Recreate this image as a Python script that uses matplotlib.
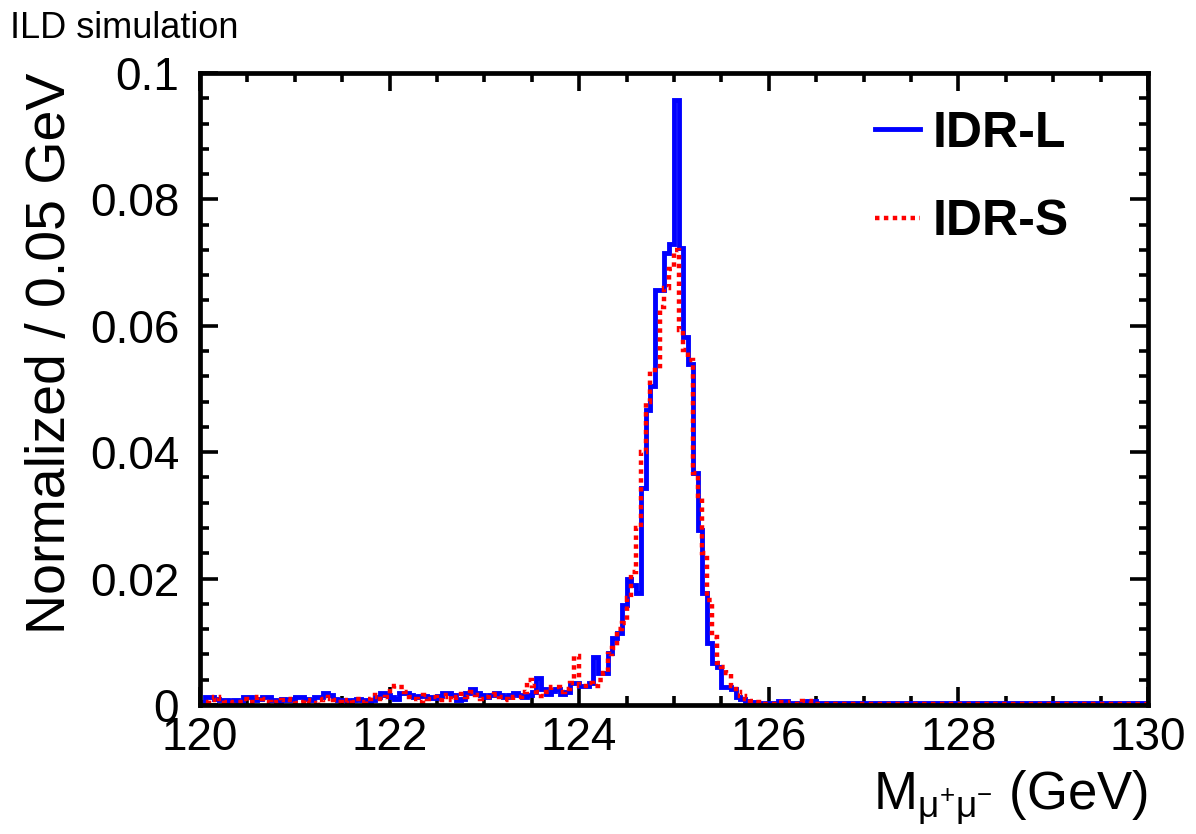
import numpy as np
import matplotlib
matplotlib.use("Agg")
import matplotlib.pyplot as plt
from matplotlib.ticker import MultipleLocator, FuncFormatter
from matplotlib.lines import Line2D

plt.rcParams['font.family'] = ['Liberation Sans', 'DejaVu Sans']
plt.rcParams['mathtext.fontset'] = 'custom'
plt.rcParams['mathtext.rm'] = 'Liberation Sans'
plt.rcParams['mathtext.it'] = 'Liberation Sans:italic'
plt.rcParams['mathtext.bf'] = 'Liberation Sans:bold'

# Histogram range: 120-130 GeV, 0.05 GeV bins (one row = 10 bins = 0.5 GeV)
x_min, x_max = 120.0, 130.0

idr_l = [
    0.0005, 0.0012, 0.0013, 0.0010, 0.0008, 0.0008, 0.0006, 0.0008, 0.0005, 0.0013,  # 120.0
    0.0013, 0.0008, 0.0010, 0.0013, 0.0013, 0.0008, 0.0006, 0.0010, 0.0008, 0.0010,  # 120.5
    0.0012, 0.0012, 0.0010, 0.0008, 0.0013, 0.0013, 0.0019, 0.0016, 0.0010, 0.0008,  # 121.0
    0.0008, 0.0006, 0.0008, 0.0010, 0.0008, 0.0006, 0.0008, 0.0013, 0.0019, 0.0016,  # 121.5
    0.0013, 0.0010, 0.0019, 0.0019, 0.0016, 0.0013, 0.0015, 0.0015, 0.0013, 0.0011,  # 122.0
    0.0015, 0.0019, 0.0019, 0.0016, 0.0008, 0.0010, 0.0019, 0.0025, 0.0019, 0.0016,  # 122.5
    0.0013, 0.0016, 0.0019, 0.0016, 0.0013, 0.0016, 0.0019, 0.0016, 0.0013, 0.0016,  # 123.0
    0.0020, 0.0043, 0.0025, 0.0018, 0.0022, 0.0025, 0.0018, 0.0020, 0.0035, 0.0035,  # 123.5
    0.0030, 0.0030, 0.0035, 0.0076, 0.0050, 0.0050, 0.0082, 0.0106, 0.0114, 0.0158,  # 124.0
    0.0200, 0.0190, 0.0177, 0.0343, 0.0467, 0.0504, 0.0657, 0.0657, 0.0715, 0.0730,  # 124.5
    0.0958, 0.0723, 0.0582, 0.0540, 0.0367, 0.0277, 0.0177, 0.0098, 0.0066, 0.0060,  # 125.0
    0.0028, 0.0028, 0.0025, 0.0013, 0.0010, 0.0006, 0.0004, 0.0003, 0.0003, 0.0003,  # 125.5
    0.0003, 0.0003, 0.0007, 0.0007, 0.0003, 0.0003, 0.0003, 0.0003, 0.0007, 0.0006,  # 126.0
    0.0003, 0.0003, 0.0003, 0.0003, 0.0003, 0.0003, 0.0003, 0.0003, 0.0003, 0.0003,  # 126.5
    0.0003, 0.0003, 0.0003, 0.0003, 0.0003, 0.0003, 0.0003, 0.0003, 0.0003, 0.0003,  # 127.0
    0.0003, 0.0003, 0.0003, 0.0003, 0.0003, 0.0003, 0.0003, 0.0003, 0.0003, 0.0003,  # 127.5
    0.0003, 0.0003, 0.0003, 0.0003, 0.0003, 0.0003, 0.0003, 0.0003, 0.0003, 0.0003,  # 128.0
    0.0003, 0.0003, 0.0003, 0.0003, 0.0003, 0.0003, 0.0003, 0.0003, 0.0003, 0.0003,  # 128.5
    0.0003, 0.0003, 0.0003, 0.0003, 0.0003, 0.0003, 0.0003, 0.0003, 0.0003, 0.0003,  # 129.0
    0.0003, 0.0003, 0.0003, 0.0003, 0.0003, 0.0003, 0.0003, 0.0003, 0.0003, 0.0003,  # 129.5
]

idr_s = [
    0.0003, 0.0005, 0.0008, 0.0013, 0.0010, 0.0005, 0.0003, 0.0005, 0.0005, 0.0010,  # 120.0
    0.0005, 0.0005, 0.0013, 0.0010, 0.0005, 0.0003, 0.0005, 0.0008, 0.0010, 0.0008,  # 120.5
    0.0003, 0.0005, 0.0008, 0.0005, 0.0003, 0.0008, 0.0010, 0.0013, 0.0008, 0.0005,  # 121.0
    0.0003, 0.0008, 0.0005, 0.0010, 0.0005, 0.0010, 0.0013, 0.0016, 0.0010, 0.0013,  # 121.5
    0.0025, 0.0030, 0.0028, 0.0020, 0.0013, 0.0010, 0.0005, 0.0016, 0.0010, 0.0013,  # 122.0
    0.0008, 0.0013, 0.0016, 0.0008, 0.0013, 0.0018, 0.0013, 0.0020, 0.0016, 0.0010,  # 122.5
    0.0013, 0.0016, 0.0018, 0.0013, 0.0010, 0.0008, 0.0013, 0.0013, 0.0020, 0.0040,  # 123.0
    0.0030, 0.0020, 0.0015, 0.0020, 0.0028, 0.0028, 0.0020, 0.0025, 0.0035, 0.0078,  # 123.5
    0.0030, 0.0030, 0.0035, 0.0030, 0.0040, 0.0050, 0.0080, 0.0090, 0.0120, 0.0130,  # 124.0
    0.0170, 0.0210, 0.0280, 0.0400, 0.0480, 0.0530, 0.0530, 0.0630, 0.0660, 0.0690,  # 124.5
    0.0720, 0.0593, 0.0562, 0.0546, 0.0367, 0.0330, 0.0240, 0.0166, 0.0108, 0.0066,  # 125.0
    0.0060, 0.0050, 0.0030, 0.0020, 0.0015, 0.0010, 0.0006, 0.0004, 0.0002, 0.0002,  # 125.5
    0.0002, 0.0002, 0.0004, 0.0004, 0.0002, 0.0002, 0.0002, 0.0006, 0.0006, 0.0002,  # 126.0
    0.0002, 0.0002, 0.0002, 0.0002, 0.0002, 0.0002, 0.0002, 0.0002, 0.0002, 0.0002,  # 126.5
    0.0002, 0.0002, 0.0002, 0.0002, 0.0002, 0.0002, 0.0002, 0.0002, 0.0002, 0.0002,  # 127.0
    0.0002, 0.0002, 0.0002, 0.0002, 0.0002, 0.0002, 0.0002, 0.0002, 0.0002, 0.0002,  # 127.5
    0.0002, 0.0002, 0.0002, 0.0002, 0.0002, 0.0002, 0.0002, 0.0002, 0.0002, 0.0002,  # 128.0
    0.0002, 0.0002, 0.0002, 0.0002, 0.0002, 0.0002, 0.0002, 0.0002, 0.0002, 0.0002,  # 128.5
    0.0002, 0.0002, 0.0002, 0.0002, 0.0002, 0.0002, 0.0002, 0.0002, 0.0002, 0.0002,  # 129.0
    0.0002, 0.0002, 0.0002, 0.0002, 0.0002, 0.0002, 0.0002, 0.0002, 0.0002, 0.0002,  # 129.5
]

labels = ['IDR-L', 'IDR-S']
colors = ['#0000ff', '#ff0000']

edges = np.linspace(x_min, x_max, len(idr_l) + 1)

fig = plt.figure(figsize=(11.96, 8.34), dpi=100)
ax = fig.add_axes([0.1672, 0.1547, 0.7926, 0.7578])

ax.stairs(idr_l, edges, color=colors[0], linewidth=3.5, zorder=2)
ax.stairs(idr_s, edges, color=colors[1], linewidth=3.2,
          linestyle=(0, (1, 1)), zorder=3)

ax.set_xlim(x_min, x_max)
ax.set_ylim(0, 0.1)

# ROOT-like frame and ticks
for sp in ax.spines.values():
    sp.set_linewidth(3.4)
    sp.set_zorder(4)
ax.xaxis.set_major_locator(MultipleLocator(2))
ax.xaxis.set_minor_locator(MultipleLocator(0.5))
ax.yaxis.set_major_locator(MultipleLocator(0.02))
ax.yaxis.set_minor_locator(MultipleLocator(0.004))
ax.yaxis.set_major_formatter(FuncFormatter(lambda v, p: '%g' % v))
ax.tick_params(which='both', direction='in', top=True, right=True, width=2.6)
ax.tick_params(which='major', length=13)
ax.tick_params(which='minor', length=6.5)
ax.tick_params(axis='x', which='major', labelsize=33, pad=8)
ax.tick_params(axis='y', which='major', labelsize=33, pad=15)

ax.set_xlabel(r'M$_{\mathrm{\mu}^{+}\mathrm{\mu}^{-}}$ (GeV)', fontsize=38, loc='right')
ax.set_ylabel('Normalized / 0.05 GeV', fontsize=40, loc='top')
ax.xaxis.set_label_coords(1.0, -0.1)
ax.yaxis.set_label_coords(-0.13, 1.0)

handles = [Line2D([], [], color=colors[0], linewidth=3.5),
           Line2D([], [], color=colors[1], linewidth=3.2, linestyle=(0, (1, 1)))]
leg = ax.legend(handles, labels, loc='upper left', bbox_to_anchor=(0.712, 0.94),
                frameon=False, borderpad=0, borderaxespad=0,
                handlelength=0.9, handletextpad=0.26, labelspacing=0.85,
                prop={'size': 36, 'weight': 'bold'})

fig.text(10 / 1196, 1 - 38 / 834, 'ILD simulation', fontsize=26, va='baseline', ha='left')

fig.savefig('out.png', dpi=100)
